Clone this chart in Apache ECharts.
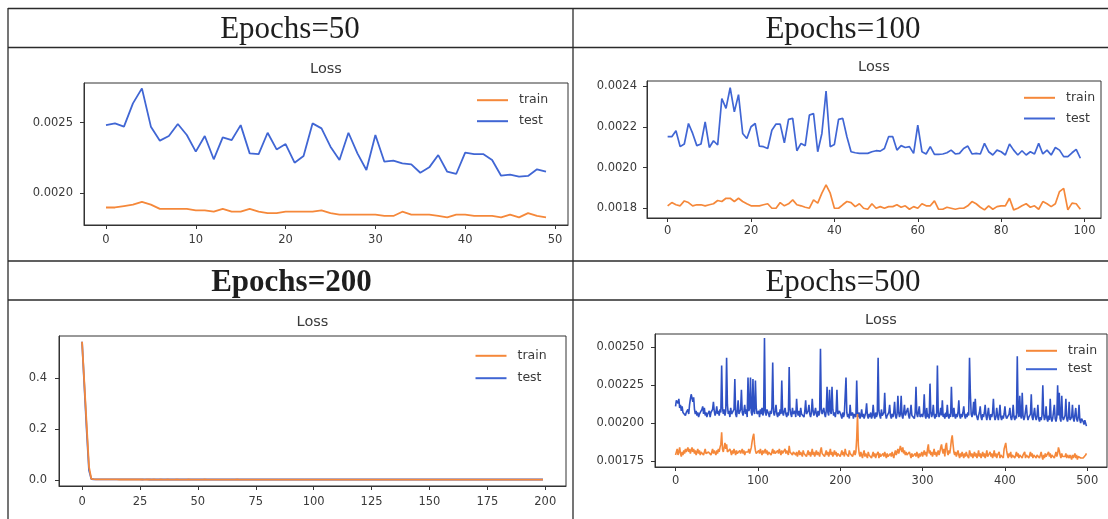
<!DOCTYPE html>
<html>
<head>
<meta charset="utf-8">
<title>Loss curves by number of epochs</title>
<script src="https://cdn.jsdelivr.net/npm/echarts@6/dist/echarts.min.js"></script>
<style>
  html, body { margin: 0; padding: 0; background: #ffffff; }
  #main { width: 1108px; height: 519px; }
</style>
</head>
<body>
<div id="main"></div>
<script>
// ---- Loss per epoch: Epochs = 50 ----
const train50 = [
  0.00190,0.00190,0.00191,0.00192,0.00194,0.00192,0.00189,0.00189,0.00189,0.00189,
  0.00188,0.00188,0.00187,0.00189,0.00187,0.00187,0.00189,0.00187,0.00186,0.00186,
  0.00187,0.00187,0.00187,0.00187,0.00188,0.00186,0.00185,0.00185,0.00185,0.00185,
  0.00185,0.00184,0.00184,0.00187,0.00185,0.00185,0.00185,0.00184,0.00183,0.00185,
  0.00185,0.00184,0.00184,0.00184,0.00183,0.00185,0.00183,0.00186,0.00184,0.00183
];
const test50 = [
  0.002483,0.002495,0.002472,0.002637,0.002743,0.002472,0.002373,0.002406,0.002491,0.002413,
  0.002295,0.002406,0.002241,0.002396,0.002377,0.002483,0.002283,0.002278,0.002429,0.002311,
  0.002349,0.002217,0.002264,0.002495,0.002460,0.002330,0.002236,0.002429,0.002283,0.002165,
  0.002413,0.002224,0.002231,0.002212,0.002205,0.002146,0.002184,0.002271,0.002153,0.002137,
  0.002288,0.002278,0.002278,0.002236,0.002125,0.002132,0.002118,0.002123,0.002170,0.002153
];

// ---- Epochs = 100 ----
const train100 = [
  0.001812,0.001828,0.001817,0.001812,0.001836,0.001828,0.001812,0.001817,0.001817,0.001812,
  0.001817,0.001822,0.001838,0.001833,0.001849,0.001849,0.001833,0.001849,0.001833,0.001822,
  0.001812,0.001812,0.001812,0.001817,0.001822,0.001800,0.001800,0.001828,0.001812,0.001822,
  0.001841,0.001817,0.001812,0.001805,0.001800,0.001841,0.001825,0.001874,0.001915,0.001874,
  0.001800,0.001800,0.001817,0.001833,0.001828,0.001808,0.001822,0.001800,0.001795,0.001822,
  0.001800,0.001808,0.001800,0.001808,0.001808,0.001817,0.001805,0.001812,0.001795,0.001808,
  0.001800,0.001822,0.001812,0.001812,0.001836,0.001795,0.001795,0.001805,0.001800,0.001795,
  0.001800,0.001800,0.001812,0.001833,0.001822,0.001805,0.001792,0.001812,0.001795,0.001808,
  0.001812,0.001812,0.001849,0.001792,0.001800,0.001812,0.001822,0.001805,0.001812,0.001795,
  0.001833,0.001822,0.001808,0.001822,0.001882,0.001898,0.001792,0.001825,0.001822,0.001795
];
const test100 = [
  0.002152,0.002152,0.002181,0.002103,0.002116,0.002217,0.002168,0.002108,0.002116,0.002225,
  0.002099,0.002132,0.002111,0.002340,0.002291,0.002393,0.002274,0.002359,0.002168,0.002143,
  0.002201,0.002217,0.002106,0.002103,0.002094,0.002184,0.002214,0.002214,0.002122,0.002237,
  0.002242,0.002083,0.002119,0.002108,0.002258,0.002266,0.002078,0.002168,0.002377,0.002103,
  0.002114,0.002237,0.002242,0.002152,0.002078,0.002073,0.002070,0.002070,0.002070,0.002078,
  0.002083,0.002081,0.002094,0.002152,0.002152,0.002086,0.002108,0.002099,0.002103,0.002070,
  0.002209,0.002078,0.002067,0.002103,0.002065,0.002065,0.002067,0.002073,0.002086,0.002067,
  0.002070,0.002094,0.002106,0.002067,0.002070,0.002067,0.002119,0.002078,0.002062,0.002086,
  0.002078,0.002062,0.002116,0.002086,0.002062,0.002083,0.002062,0.002078,0.002067,0.002119,
  0.002067,0.002086,0.002062,0.002099,0.002086,0.002054,0.002054,0.002073,0.002090,0.002046
];

// ---- Epochs = 200 ----
const train200 = [
  0.545,0.38,0.215,0.052,0.0042,0.0031,0.0028,0.0026,0.0025,0.0024,0.0024,0.0023,0.0023,0.0022,0.0022,0.0022,0.0021,0.0021,0.0021,0.0021,
  0.0020,0.0021,0.0020,0.0020,0.0020,0.0020,0.0020,0.0019,0.0020,0.0020,0.0019,0.0020,0.0019,0.0019,0.0020,0.0019,0.0019,0.0020,0.0019,0.0019,
  0.0019,0.0020,0.0019,0.0019,0.0019,0.0019,0.0020,0.0019,0.0019,0.0019,0.0019,0.0019,0.0019,0.0020,0.0019,0.0019,0.0019,0.0019,0.0019,0.0019,
  0.0019,0.0019,0.0018,0.0019,0.0019,0.0019,0.0019,0.0020,0.0019,0.0019,0.0019,0.0018,0.0019,0.0019,0.0019,0.0019,0.0019,0.0018,0.0019,0.0019,
  0.0019,0.0019,0.0018,0.0019,0.0019,0.0018,0.0019,0.0019,0.0019,0.0018,0.0019,0.0019,0.0018,0.0019,0.0019,0.0019,0.0018,0.0019,0.0019,0.0018,
  0.0019,0.0019,0.0018,0.0019,0.0018,0.0019,0.0019,0.0018,0.0019,0.0019,0.0018,0.0019,0.0018,0.0019,0.0019,0.0018,0.0019,0.0018,0.0019,0.0019,
  0.0018,0.0019,0.0018,0.0019,0.0018,0.0018,0.0019,0.0018,0.0019,0.0018,0.0019,0.0018,0.0018,0.0019,0.0018,0.0019,0.0018,0.0018,0.0019,0.0018,
  0.0018,0.0019,0.0018,0.0018,0.0019,0.0018,0.0018,0.0019,0.0018,0.0018,0.0018,0.0019,0.0018,0.0018,0.0019,0.0018,0.0018,0.0018,0.0019,0.0018,
  0.0018,0.0018,0.0019,0.0018,0.0018,0.0018,0.0018,0.0019,0.0018,0.0018,0.0018,0.0018,0.0019,0.0018,0.0018,0.0018,0.0018,0.0018,0.0019,0.0018,
  0.0018,0.0018,0.0018,0.0018,0.0019,0.0018,0.0018,0.0018,0.0018,0.0018,0.0018,0.0019,0.0018,0.0018,0.0018,0.0018,0.0018,0.0018,0.0018,0.0018
];
const test200 = [
  0.545,0.37,0.195,0.038,0.0036,0.0030,0.0028,0.0027,0.0026,0.0025,0.0025,0.0024,0.0024,0.0024,0.0023,0.0023,0.0023,0.0023,0.0022,0.0023,
  0.0022,0.0022,0.0023,0.0022,0.0022,0.0022,0.0021,0.0022,0.0022,0.0021,0.0022,0.0021,0.0022,0.0021,0.0021,0.0022,0.0021,0.0021,0.0021,0.0022,
  0.0021,0.0021,0.0022,0.0021,0.0021,0.0021,0.0021,0.0022,0.0021,0.0021,0.0020,0.0021,0.0021,0.0021,0.0022,0.0021,0.0021,0.0021,0.0020,0.0021,
  0.0021,0.0021,0.0021,0.0022,0.0021,0.0020,0.0021,0.0021,0.0021,0.0021,0.0020,0.0021,0.0021,0.0022,0.0021,0.0021,0.0020,0.0021,0.0021,0.0021,
  0.0020,0.0021,0.0021,0.0021,0.0022,0.0021,0.0020,0.0021,0.0021,0.0020,0.0021,0.0021,0.0021,0.0020,0.0021,0.0022,0.0021,0.0020,0.0021,0.0021,
  0.0021,0.0020,0.0021,0.0021,0.0020,0.0021,0.0022,0.0021,0.0020,0.0021,0.0021,0.0020,0.0021,0.0021,0.0020,0.0021,0.0021,0.0022,0.0020,0.0021,
  0.0021,0.0020,0.0021,0.0020,0.0021,0.0021,0.0020,0.0021,0.0022,0.0020,0.0021,0.0020,0.0021,0.0021,0.0020,0.0021,0.0020,0.0021,0.0021,0.0020,
  0.0021,0.0020,0.0021,0.0021,0.0020,0.0020,0.0021,0.0020,0.0021,0.0022,0.0020,0.0021,0.0020,0.0020,0.0021,0.0020,0.0021,0.0021,0.0020,0.0021,
  0.0020,0.0021,0.0020,0.0020,0.0021,0.0020,0.0021,0.0020,0.0020,0.0021,0.0021,0.0020,0.0020,0.0021,0.0020,0.0022,0.0020,0.0020,0.0021,0.0020,
  0.0020,0.0021,0.0020,0.0020,0.0021,0.0020,0.0020,0.0021,0.0020,0.0020,0.0021,0.0020,0.0020,0.0020,0.0021,0.0020,0.0020,0.0021,0.0020,0.0020
];

// ---- Epochs = 500 ----
const train500 = [
  0.00179,0.00180,0.00183,0.00179,0.00181,0.00184,0.00180,0.00178,0.00181,0.00179,0.00182,0.00180,0.00183,0.00181,0.00182,0.00184,0.00181,0.00183,0.00180,0.00182,
  0.00184,0.00181,0.00183,0.00180,0.00182,0.00179,0.00181,0.00183,0.00180,0.00182,0.00179,0.00181,0.00180,0.00182,0.00179,0.00181,0.00183,0.00180,0.00181,0.00179,
  0.00181,0.00180,0.00182,0.00179,0.00181,0.00183,0.00180,0.00182,0.00181,0.00179,0.00182,0.00180,0.00183,0.00181,0.00184,0.00186,0.00194,0.00183,0.00181,0.00182,
  0.00187,0.00183,0.00186,0.00181,0.00182,0.00180,0.00183,0.00181,0.00179,0.00182,0.00180,0.00183,0.00181,0.00179,0.00182,0.00180,0.00181,0.00179,0.00182,0.00180,
  0.00181,0.00183,0.00180,0.00182,0.00179,0.00181,0.00180,0.00182,0.00181,0.00183,0.00180,0.00182,0.00184,0.00188,0.00191,0.00193,0.00186,0.00182,0.00180,0.00181,
  0.00179,0.00182,0.00180,0.00183,0.00181,0.00179,0.00182,0.00180,0.00181,0.00183,0.00180,0.00182,0.00179,0.00181,0.00180,0.00182,0.00179,0.00181,0.00183,0.00180,
  0.00182,0.00180,0.00181,0.00179,0.00182,0.00180,0.00183,0.00181,0.00179,0.00182,0.00180,0.00181,0.00179,0.00183,0.00180,0.00182,0.00181,0.00179,0.00185,0.00181,
  0.00180,0.00182,0.00179,0.00181,0.00180,0.00182,0.00179,0.00181,0.00178,0.00180,0.00182,0.00179,0.00181,0.00180,0.00178,0.00182,0.00180,0.00179,0.00181,0.00178,
  0.00180,0.00182,0.00179,0.00181,0.00178,0.00180,0.00183,0.00179,0.00181,0.00178,0.00180,0.00182,0.00179,0.00181,0.00180,0.00178,0.00182,0.00184,0.00180,0.00179,
  0.00181,0.00178,0.00180,0.00182,0.00179,0.00181,0.00178,0.00180,0.00183,0.00179,0.00181,0.00178,0.00180,0.00182,0.00179,0.00181,0.00178,0.00180,0.00179,0.00181,
  0.00178,0.00180,0.00182,0.00179,0.00181,0.00178,0.00183,0.00180,0.00179,0.00181,0.00178,0.00182,0.00180,0.00179,0.00181,0.00178,0.00180,0.00182,0.00179,0.00181,
  0.00190,0.00206,0.00185,0.00180,0.00178,0.00181,0.00179,0.00177,0.00180,0.00182,0.00178,0.00180,0.00179,0.00177,0.00181,0.00179,0.00178,0.00180,0.00177,0.00179,
  0.00181,0.00178,0.00180,0.00177,0.00179,0.00178,0.00181,0.00177,0.00180,0.00178,0.00179,0.00177,0.00180,0.00178,0.00181,0.00179,0.00177,0.00180,0.00178,0.00179,
  0.00177,0.00180,0.00178,0.00181,0.00179,0.00177,0.00180,0.00182,0.00179,0.00181,0.00183,0.00180,0.00182,0.00185,0.00183,0.00181,0.00184,0.00180,0.00182,0.00179,
  0.00181,0.00179,0.00180,0.00178,0.00181,0.00179,0.00177,0.00180,0.00178,0.00179,0.00177,0.00180,0.00178,0.00181,0.00179,0.00177,0.00180,0.00178,0.00179,0.00181,
  0.00178,0.00180,0.00182,0.00179,0.00181,0.00178,0.00183,0.00186,0.00180,0.00182,0.00179,0.00181,0.00178,0.00180,0.00183,0.00179,0.00181,0.00178,0.00180,0.00182,
  0.00179,0.00181,0.00184,0.00186,0.00182,0.00180,0.00183,0.00178,0.00185,0.00187,0.00181,0.00179,0.00182,0.00180,0.00184,0.00189,0.00192,0.00186,0.00181,0.00179,
  0.00181,0.00178,0.00180,0.00182,0.00179,0.00177,0.00180,0.00178,0.00181,0.00179,0.00177,0.00180,0.00178,0.00181,0.00179,0.00180,0.00177,0.00182,0.00180,0.00178,
  0.00180,0.00177,0.00179,0.00181,0.00178,0.00180,0.00177,0.00179,0.00182,0.00178,0.00180,0.00177,0.00179,0.00181,0.00178,0.00180,0.00177,0.00179,0.00182,0.00178,
  0.00177,0.00179,0.00181,0.00178,0.00180,0.00177,0.00179,0.00182,0.00178,0.00180,0.00177,0.00179,0.00178,0.00181,0.00177,0.00179,0.00178,0.00180,0.00177,0.00183,
  0.00185,0.00187,0.00182,0.00179,0.00177,0.00180,0.00178,0.00181,0.00177,0.00179,0.00178,0.00180,0.00177,0.00179,0.00181,0.00178,0.00180,0.00177,0.00179,0.00178,
  0.00180,0.00177,0.00179,0.00178,0.00181,0.00177,0.00179,0.00178,0.00180,0.00177,0.00179,0.00181,0.00178,0.00180,0.00177,0.00179,0.00178,0.00180,0.00177,0.00179,
  0.00178,0.00180,0.00177,0.00179,0.00181,0.00178,0.00176,0.00179,0.00177,0.00180,0.00178,0.00179,0.00177,0.00181,0.00178,0.00180,0.00177,0.00179,0.00178,0.00180,
  0.00177,0.00179,0.00181,0.00178,0.00180,0.00184,0.00182,0.00179,0.00177,0.00180,0.00178,0.00177,0.00179,0.00178,0.00180,0.00177,0.00179,0.00178,0.00177,0.00179,
  0.00178,0.00176,0.00179,0.00177,0.00178,0.00180,0.00177,0.00179,0.00176,0.00178,0.00177,0.00179,0.00177,0.00176,0.00178,0.00177,0.00176,0.00178,0.00179,0.00180
];
const test500 = [
  0.00211,0.00215,0.00216,0.00213,0.00216,0.00210,0.00212,0.00208,0.00211,0.00207,0.00206,0.00208,0.00205,0.00207,0.00206,0.00209,0.00206,0.00212,0.00216,0.00219,
  0.00220,0.00214,0.00217,0.00209,0.00206,0.00208,0.00205,0.00207,0.00204,0.00206,0.00205,0.00207,0.00209,0.00211,0.00206,0.00210,0.00205,0.00207,0.00204,0.00206,
  0.00205,0.00208,0.00204,0.00207,0.00206,0.00209,0.00214,0.00208,0.00205,0.00207,0.00211,0.00206,0.00208,0.00205,0.00209,0.00207,0.00238,0.00210,0.00206,0.00209,
  0.00205,0.00208,0.00243,0.00212,0.00206,0.00208,0.00204,0.00210,0.00206,0.00205,0.00207,0.00209,0.00229,0.00206,0.00204,0.00208,0.00215,0.00206,0.00205,0.00209,
  0.00222,0.00207,0.00205,0.00208,0.00212,0.00206,0.00209,0.00204,0.00230,0.00208,0.00210,0.00230,0.00207,0.00205,0.00229,0.00208,0.00206,0.00228,0.00210,0.00206,
  0.00205,0.00208,0.00204,0.00209,0.00206,0.00210,0.00205,0.00207,0.00256,0.00208,0.00205,0.00209,0.00210,0.00206,0.00204,0.00208,0.00206,0.00210,0.00240,0.00207,
  0.00205,0.00208,0.00212,0.00206,0.00204,0.00207,0.00205,0.00209,0.00206,0.00228,0.00207,0.00205,0.00208,0.00210,0.00206,0.00204,0.00207,0.00205,0.00237,0.00209,
  0.00206,0.00204,0.00210,0.00206,0.00205,0.00208,0.00204,0.00216,0.00207,0.00205,0.00208,0.00204,0.00210,0.00206,0.00205,0.00207,0.00204,0.00208,0.00215,0.00206,
  0.00205,0.00208,0.00212,0.00206,0.00204,0.00207,0.00216,0.00208,0.00205,0.00207,0.00210,0.00206,0.00204,0.00208,0.00205,0.00207,0.00249,0.00209,0.00206,0.00205,
  0.00210,0.00206,0.00204,0.00208,0.00224,0.00207,0.00205,0.00222,0.00208,0.00206,0.00224,0.00209,0.00205,0.00207,0.00204,0.00208,0.00222,0.00206,0.00205,0.00208,
  0.00209,0.00205,0.00203,0.00207,0.00204,0.00206,0.00205,0.00230,0.00207,0.00204,0.00206,0.00203,0.00212,0.00205,0.00204,0.00207,0.00203,0.00206,0.00205,0.00204,
  0.00228,0.00206,0.00204,0.00207,0.00203,0.00205,0.00209,0.00204,0.00206,0.00203,0.00205,0.00207,0.00213,0.00205,0.00203,0.00206,0.00204,0.00207,0.00203,0.00205,
  0.00212,0.00205,0.00203,0.00207,0.00204,0.00206,0.00243,0.00208,0.00205,0.00203,0.00209,0.00205,0.00204,0.00207,0.00220,0.00206,0.00203,0.00205,0.00204,0.00207,
  0.00212,0.00205,0.00203,0.00206,0.00204,0.00207,0.00214,0.00205,0.00203,0.00206,0.00218,0.00207,0.00204,0.00206,0.00218,0.00205,0.00203,0.00207,0.00212,0.00205,
  0.00204,0.00206,0.00210,0.00205,0.00203,0.00207,0.00212,0.00205,0.00204,0.00206,0.00203,0.00207,0.00224,0.00206,0.00204,0.00205,0.00211,0.00204,0.00203,0.00206,
  0.00204,0.00207,0.00219,0.00205,0.00203,0.00210,0.00204,0.00206,0.00203,0.00226,0.00207,0.00204,0.00206,0.00212,0.00205,0.00203,0.00206,0.00204,0.00238,0.00207,
  0.00204,0.00206,0.00210,0.00205,0.00215,0.00204,0.00206,0.00203,0.00207,0.00204,0.00212,0.00205,0.00203,0.00206,0.00204,0.00224,0.00207,0.00204,0.00210,0.00205,
  0.00203,0.00206,0.00204,0.00207,0.00215,0.00205,0.00203,0.00206,0.00204,0.00207,0.00211,0.00205,0.00203,0.00206,0.00204,0.00207,0.00205,0.00243,0.00220,0.00206,
  0.00204,0.00207,0.00214,0.00205,0.00216,0.00206,0.00204,0.00202,0.00205,0.00207,0.00211,0.00204,0.00202,0.00206,0.00204,0.00207,0.00212,0.00205,0.00202,0.00206,
  0.00210,0.00204,0.00202,0.00206,0.00204,0.00207,0.00216,0.00205,0.00202,0.00204,0.00210,0.00205,0.00202,0.00206,0.00212,0.00204,0.00202,0.00205,0.00203,0.00206,
  0.00211,0.00205,0.00203,0.00204,0.00202,0.00206,0.00210,0.00204,0.00202,0.00205,0.00212,0.00204,0.00202,0.00205,0.00203,0.00244,0.00207,0.00204,0.00218,0.00205,
  0.00203,0.00220,0.00205,0.00202,0.00204,0.00203,0.00212,0.00205,0.00202,0.00204,0.00203,0.00206,0.00219,0.00204,0.00202,0.00203,0.00210,0.00204,0.00202,0.00205,
  0.00212,0.00203,0.00201,0.00204,0.00202,0.00205,0.00225,0.00206,0.00202,0.00204,0.00211,0.00203,0.00201,0.00205,0.00202,0.00216,0.00204,0.00201,0.00203,0.00202,
  0.00212,0.00203,0.00201,0.00204,0.00225,0.00205,0.00220,0.00203,0.00201,0.00218,0.00204,0.00202,0.00201,0.00205,0.00216,0.00203,0.00201,0.00204,0.00214,0.00202,
  0.00201,0.00204,0.00212,0.00203,0.00201,0.00202,0.00210,0.00203,0.00201,0.00204,0.00212,0.00202,0.00200,0.00203,0.00204,0.00201,0.00199,0.00202,0.00200,0.00198
];

// ---- Tick labels ----
const xTicks50  = ['0','10','20','30','40','50'];
const yTicks50  = ['0.0020','0.0025'];
const xTicks100 = ['0','20','40','60','80','100'];
const yTicks100 = ['0.0018','0.0020','0.0022','0.0024'];
const xTicks200 = ['0','25','50','75','100','125','150','175','200'];
const yTicks200 = ['0.0','0.2','0.4'];
const xTicks500 = ['0','100','200','300','400','500'];
const yTicks500 = ['0.00175','0.00200','0.00225','0.00250'];

const headers = ['Epochs=50','Epochs=100','Epochs=200','Epochs=500'];
const seriesNames = ['train','test'];

// ---- Layout ----
const ORANGE = '#f5883a';
const BLUE = '#4066d4';
const INK = '#3a3a3a';
const SANS = 'DejaVu Sans';

const panels = [
  { train: train50, test: test50, xTicks: xTicks50, yTicks: yTicks50,
    grid: { left: 84, top: 83, width: 484, height: 142 },
    xRange: [-2.45, 51.45], yRange: [0.001776, 0.002781],
    header: { x: 290, y: 30, bold: false }, titleY: 69,
    legend: { left: 472, top: 91.7, gap: 8 }, lw: 1.8, blue: BLUE, xMargin: 9, yMargin: 11 },
  { train: train100, test: test100, xTicks: xTicks100, yTicks: yTicks100,
    grid: { left: 647, top: 81, width: 454, height: 137 },
    xRange: [-4.95, 103.95], yRange: [0.001752, 0.002426],
    header: { x: 843, y: 30, bold: false }, titleY: 67.7,
    legend: { left: 1019, top: 89.3, gap: 7.7 }, lw: 1.7, blue: BLUE, xMargin: 7, yMargin: 10 },
  { train: train200, test: test200, xTicks: xTicks200, yTicks: yTicks200,
    grid: { left: 59, top: 336, width: 507, height: 150 },
    xRange: [-9.95, 208.95], yRange: [-0.0236, 0.5675],
    header: { x: 291.5, y: 282.5, bold: true }, titleY: 322,
    legend: { left: 470.5, top: 347.3, gap: 9.4 }, lw: 1.8, blue: BLUE, xMargin: 10, yMargin: 12 },
  { train: train500, test: test500, xTicks: xTicks500, yTicks: yTicks500,
    grid: { left: 655, top: 334, width: 452, height: 133 },
    xRange: [-24.95, 523.95], yRange: [0.001711, 0.002587],
    header: { x: 843, y: 282.5, bold: false }, titleY: 320.3,
    legend: { left: 1021, top: 342.3, gap: 5.4 }, lw: 1.6, blue: '#2f51c4', xMargin: 8, yMargin: 11 }
];

function labelFor(list) {
  return function (v) {
    const hit = list.find(s => Math.abs(Number(s) - v) < 1e-9);
    return hit === undefined ? '' : hit;
  };
}

const tickLabelStyle = { color: INK, fontSize: 11.5, fontFamily: SANS };

const grids = [], xAxes = [], yAxes = [], series = [], legends = [], graphics = [];

panels.forEach((p, i) => {
  grids.push(Object.assign({ show: true, borderColor: '#333', borderWidth: 1,
    backgroundColor: 'transparent', containLabel: false }, p.grid));

  xAxes.push({
    type: 'value', gridIndex: i, min: p.xRange[0], max: p.xRange[1],
    axisLine: { show: true, onZero: false, lineStyle: { color: '#333', width: 1 } },
    splitLine: { show: false },
    axisTick: { show: true, length: 4, lineStyle: { color: '#333' },
      customValues: p.xTicks.map(Number) },
    axisLabel: Object.assign({ margin: p.xMargin, customValues: p.xTicks.map(Number),
      formatter: labelFor(p.xTicks) }, tickLabelStyle)
  });
  yAxes.push({
    type: 'value', gridIndex: i, min: p.yRange[0], max: p.yRange[1],
    axisLine: { show: true, onZero: false, lineStyle: { color: '#333', width: 1 } },
    splitLine: { show: false },
    axisTick: { show: true, length: 4, lineStyle: { color: '#333' },
      customValues: p.yTicks.map(Number) },
    axisLabel: Object.assign({ margin: p.yMargin, customValues: p.yTicks.map(Number),
      formatter: labelFor(p.yTicks) }, tickLabelStyle)
  });

  // test drawn first so the train curve sits on top
  series.push({
    name: seriesNames[1], type: 'line', xAxisIndex: i, yAxisIndex: i,
    data: p.test.map((v, k) => [k, v]), showSymbol: false, symbol: 'none',
    lineStyle: { color: p.blue, width: p.lw }, itemStyle: { color: p.blue }, z: 2
  });
  series.push({
    name: seriesNames[0], type: 'line', xAxisIndex: i, yAxisIndex: i,
    data: p.train.map((v, k) => [k, v]), showSymbol: false, symbol: 'none',
    lineStyle: { color: ORANGE, width: p.lw }, itemStyle: { color: ORANGE }, z: 3
  });

  // legend keys are plain line segments (the marker is hidden)
  legends.push({
    orient: 'vertical', left: p.legend.left, top: p.legend.top,
    padding: [2, 4, 2, 4], itemGap: p.legend.gap, itemWidth: 31, itemHeight: 14,
    backgroundColor: 'rgba(255,255,255,0.8)', selectedMode: false,
    data: seriesNames.map(n => ({ name: n })),
    lineStyle: { width: 2, opacity: 1 },
    itemStyle: { opacity: 0 },
    textStyle: { color: INK, fontSize: 12.5, fontFamily: SANS, padding: [0, 0, 0, 6] }
  });

  graphics.push({
    type: 'text', silent: true,
    style: { text: headers[i], x: p.header.x, y: p.header.y, align: 'center', verticalAlign: 'middle',
      font: (p.header.bold ? 'bold ' : '') + '31px "Liberation Serif"', fill: '#1e1e1e' }
  });
  graphics.push({
    type: 'text', silent: true,
    style: { text: 'Loss', x: p.grid.left + p.grid.width / 2, y: p.titleY, align: 'center',
      verticalAlign: 'middle', font: '14.5px "' + SANS + '"', fill: INK }
  });
});

// table rules around the four panels
const RULE = { stroke: '#2b2b2b', lineWidth: 1.3 };
[[8, 8.5, 1108, 8.5], [8, 47.5, 1108, 47.5], [8, 261, 1108, 261], [8, 300, 1108, 300],
 [8, 8, 8, 519], [573, 8, 573, 519]].forEach(l => {
  graphics.push({ type: 'line', silent: true, z: 100,
    shape: { x1: l[0], y1: l[1], x2: l[2], y2: l[3] }, style: RULE });
});

const chart = echarts.init(document.getElementById('main'), null, { renderer: 'canvas' });
chart.setOption({
  animation: false,
  backgroundColor: '#ffffff',
  grid: grids,
  xAxis: xAxes,
  yAxis: yAxes,
  legend: legends,
  series: series,
  graphic: { elements: graphics }
});
</script>
</body>
</html>
